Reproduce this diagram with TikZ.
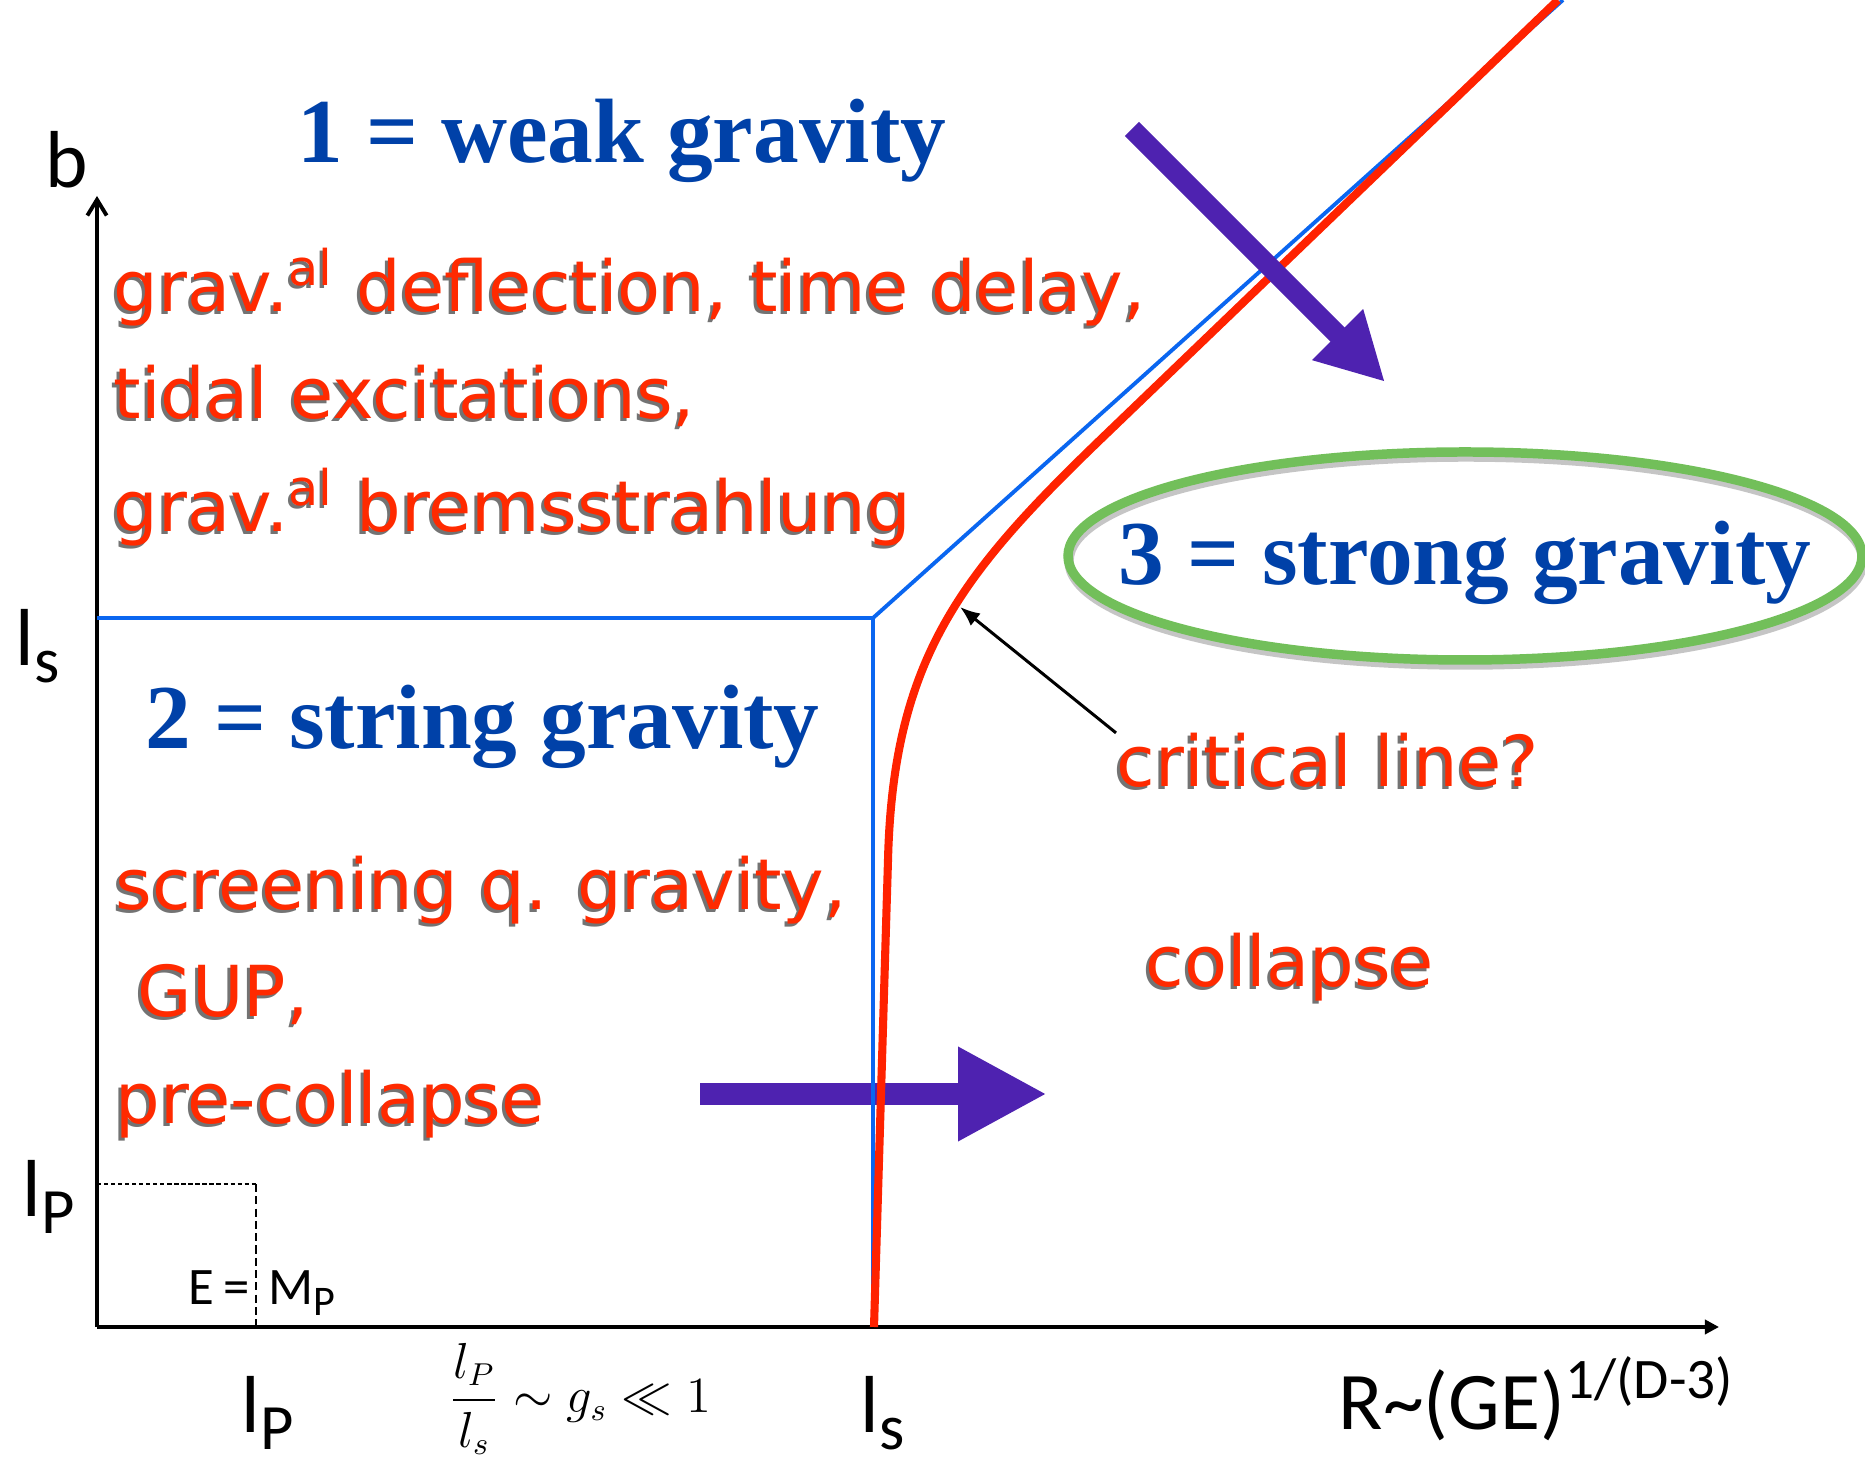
\documentclass[tikz,border=0pt]{standalone}
\usepackage{fontspec}
\setmainfont{Liberation Serif}
\newfontfamily\comicfont{DejaVu Sans}
\newfontfamily\chalkfont{Carlito}
\usepackage{amsmath}
\usetikzlibrary{arrows.meta,calc}
\definecolor{titleblue}{HTML}{0041A8}
\definecolor{lblred}{HTML}{FF2A00}
\definecolor{curvered}{HTML}{FF2200}
\definecolor{lineblue}{HTML}{0A66F0}
\definecolor{fatpurple}{HTML}{4E22B0}
\definecolor{ringgreen}{HTML}{72BF5A}
\tikzset{
  % Region titles
  regtitle/.style={anchor=base west,inner sep=0pt,text=titleblue,
                   font=\fontsize{26}{30}\selectfont\bfseries},
  % Red hand-written labels (with a dark drop shadow)
  redlbl/.style={anchor=base west,inner sep=0pt,text=lblred,
                 font=\comicfont\fontsize{20}{24}\selectfont},
  redshd/.style={redlbl,text=black,text opacity=0.55},
  % Axis labels
  axlbl/.style={anchor=base west,inner sep=0pt,
                font=\chalkfont\fontsize{23}{26}\selectfont},
  % Lines
  axisln/.style={black,line width=1.1pt},
  bound/.style={lineblue,line width=1.1pt},
  critln/.style={curvered,line width=2.3pt},
  guide/.style={black,line width=0.5pt},
  ring/.style={ringgreen,line width=2.7pt},
  ringshd/.style={black!45,line width=2.7pt,opacity=0.5},
  fatarr/.style={fatpurple,line width=#1}
}
% red label = shadow copy + red copy
\newcommand{\redtext}[3]{%
  \node[redshd] at ($(#2)+(-0.03,-0.03)$) {#3};
  \node[redlbl] (#1) at (#2) {#3};}
% large, low index for the axis labels
\newcommand{\axsub}[1]{\raisebox{-0.2em}{\scalebox{0.8}{#1}}}

\begin{document}
\begin{tikzpicture}
  \useasboundingbox (0,0) rectangle (18.65,14.61);

  % Key points
  \coordinate (O)     at (0.97,1.34);
  \coordinate (ytip)  at (0.97,12.65);
  \coordinate (xtip)  at (17.19,1.34);
  \coordinate (lsy)   at (0.97,8.43);
  \coordinate (lsx)   at (8.73,1.34);
  \coordinate (knee)  at (8.73,8.43);
  \coordinate (bfar)  at (15.63,14.61);
  \coordinate (rbot)  at (8.74,1.34);
  \coordinate (rfar)  at (15.58,14.61);

  % Purple arrow across the string scale (under the lines)
  \coordinate (harr0) at (7.00,3.67);
  \coordinate (harr1) at (10.47,3.67);
  \draw[fatarr=6.5pt,-{Triangle[length=8.9mm,width=8.8mm]}] (harr0) -- (harr1);

  % Axes
  \draw[axisln,-{Straight Barb[length=4.5pt,width=5.5pt]}] (O) -- (ytip);
  \draw[axisln,line width=1.4pt,-{Triangle[length=4pt,width=4pt]}] (O) -- (xtip);

  % Planck box
  \coordinate (lpy) at (0.97,2.77);
  \coordinate (lpc) at (2.56,2.77);
  \coordinate (lpx) at (2.56,1.34);
  \draw[guide,dash pattern=on 1.2pt off 0.8pt] (lpy) -- (lpc);
  \draw[guide,dash pattern=on 2.3pt off 1.2pt] (lpc) -- (lpx);

  % Region boundaries
  \draw[bound] (lsy) -- (knee);
  \draw[bound] (lsx) -- (knee) -- (bfar);

  % Critical line
  \draw[critln] (rbot) -- (8.88,6.01)
    .. controls (8.93,8.01) and (9.60,8.86) .. (11.00,10.21) -- (rfar);

  % Purple arrow into strong gravity
  \coordinate (darr0) at (11.32,13.32);
  \coordinate (darr1) at (13.85,10.79);
  \draw[fatarr=5.7pt,-{Triangle[length=6.7mm,width=6.7mm]}] (darr0) -- (darr1);

  % Region 3 ring
  \draw[ringshd] (14.66,9.00) ellipse [x radius=3.97, y radius=1.04];
  \draw[ring] (14.65,9.05) ellipse [x radius=3.97, y radius=1.04];

  % Region titles
  \node[regtitle] (weak)   at (2.97,12.98) {1 = weak gravity};
  \node[regtitle] (string) at (1.45,7.12)  {2 = string gravity};
  \node[regtitle] (strong) at (11.18,8.76) {3 = strong gravity};

  % Red labels
  \redtext{defl}{1.13,11.49}{grav.\textsuperscript{al} deflection, time delay,}
  \redtext{tidal}{1.13,10.42}{tidal excitations,}
  \redtext{brems}{1.13,9.29}{grav.\textsuperscript{al} bremsstrahlung}
  \redtext{screen}{1.15,5.51}{screening q. gravity,}
  \redtext{gup}{1.37,4.44}{GUP,}
  \redtext{precoll}{1.15,3.37}{pre-collapse}
  \redtext{crit}{11.16,6.74}{critical line?}
  \redtext{coll}{11.45,4.74}{collapse}

  % Pointer to the critical line
  \coordinate (crittip) at (9.60,8.54);
  \draw[black,line width=0.85pt,-{Latex[length=5.7pt,width=4.5pt]}]
    (crit.north west) -- (crittip);

  % Axis labels
  \node[axlbl] (blbl)  at (0.45,12.73) {b};
  \node[axlbl] (lsl)   at (0.15,7.95)  {l\axsub{s}};
  \node[axlbl] (lpl)   at (0.22,2.44)  {l\axsub{P}};
  \node[axlbl] (lpb)   at (2.41,0.28)  {l\axsub{P}};
  \node[axlbl] (lsb)   at (8.60,0.28)  {l\axsub{s}};
  \node[axlbl,font=\chalkfont\fontsize{23.3}{27}\selectfont] (rlbl) at (13.38,0.31)
    {R\textasciitilde(GE)\textsuperscript{1/(D-3)}};
  \node[axlbl,font=\chalkfont\fontsize{15}{18}\selectfont] (emp) at (1.88,1.56)
    {E\kern2.5pt=\kern5.5pt M\axsub{P}};
  \node[font=\fontsize{13.5}{16}\selectfont] (ratio) at (5.80,0.62)
    {$\displaystyle\frac{l_P}{l_s}\sim g_s\ll 1$};
\end{tikzpicture}
\end{document}
